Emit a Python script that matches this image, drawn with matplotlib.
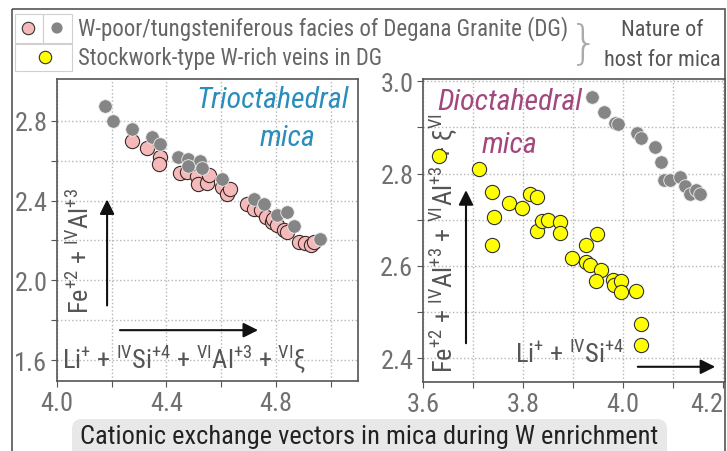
import matplotlib
matplotlib.use("Agg")
import matplotlib.pyplot as plt
from matplotlib.patches import Rectangle, FancyBboxPatch

FONT = 'Roboto Condensed'
plt.rcParams['font.family'] = [FONT, 'DejaVu Sans']
plt.rcParams['mathtext.fontset'] = 'custom'
plt.rcParams['mathtext.rm'] = FONT
plt.rcParams['mathtext.it'] = FONT + ':italic'

# trioctahedral mica (left panel)
tri_pink_x = [4.273, 4.328, 4.375, 4.371, 4.45, 4.474, 4.511, 4.517, 4.548, 4.554,
              4.603, 4.621, 4.634, 4.695, 4.719, 4.744, 4.762, 4.786, 4.79, 4.805,
              4.83, 4.841, 4.884, 4.908, 4.927, 4.938]
tri_pink_y = [2.697, 2.663, 2.618, 2.585, 2.54, 2.543, 2.523, 2.485, 2.49, 2.527,
              2.468, 2.435, 2.46, 2.385, 2.36, 2.352, 2.318, 2.293, 2.31, 2.277,
              2.252, 2.243, 2.193, 2.185, 2.177, 2.193]
tri_gray_x = [4.176, 4.206, 4.273, 4.347, 4.377, 4.444, 4.48, 4.524, 4.48, 4.53,
              4.603, 4.719, 4.756, 4.805, 4.841, 4.866, 4.961]
tri_gray_y = [2.877, 2.80, 2.757, 2.72, 2.685, 2.62, 2.61, 2.60, 2.574, 2.563,
              2.507, 2.41, 2.385, 2.327, 2.344, 2.273, 2.207]

# dioctahedral mica (right panel)
di_gray_x = [3.939, 3.962, 3.984, 3.991, 4.029, 4.036, 4.064, 4.077, 4.082, 4.094,
             4.113, 4.124, 4.134, 4.146, 4.155]
di_gray_y = [2.966, 2.934, 2.910, 2.908, 2.887, 2.877, 2.858, 2.826, 2.786, 2.786,
             2.792, 2.772, 2.756, 2.765, 2.756]
di_yel_x = [3.633, 3.713, 3.738, 3.742, 3.738, 3.773, 3.799, 3.814, 3.829, 3.829,
            3.839, 3.851, 3.874, 3.874, 3.899, 3.927, 3.949, 3.926, 3.935, 3.957,
            3.947, 3.980, 3.982, 3.997, 3.997, 4.026, 4.037, 4.037]
di_yel_y = [2.839, 2.810, 2.761, 2.706, 2.645, 2.736, 2.726, 2.755, 2.749, 2.676,
            2.697, 2.699, 2.695, 2.670, 2.617, 2.645, 2.668, 2.609, 2.602, 2.591,
            2.568, 2.570, 2.559, 2.566, 2.543, 2.545, 2.473, 2.428]

tri_xticks = [4.0, 4.2, 4.4, 4.6, 4.8, 5.0]
tri_xlabels = ['4.0', '', '4.4', '', '4.8', '']
tri_yticks = [1.6, 1.8, 2.0, 2.2, 2.4, 2.6, 2.8]
tri_ylabels = ['1.6', '', '2.0', '', '2.4', '', '2.8']
di_xticks = [3.6, 3.7, 3.8, 3.9, 4.0, 4.1, 4.2]
di_xlabels = ['3.6', '', '3.8', '', '4.0', '', '4.2']
di_yticks = [2.4, 2.5, 2.6, 2.7, 2.8, 2.9, 3.0]
di_ylabels = ['2.4', '', '2.6', '', '2.8', '', '3.0']

PINK = '#f5b9b9'
GRAY = '#858585'
YELLOW = '#ffff00'
SPINE = '#555555'
TICKTXT = '#707070'

W, H = 727, 452
fig = plt.figure(figsize=(W / 100, H / 100), dpi=100)

# overlay in pixel units for frame, legend and caption
ov = fig.add_axes([0, 0, 1, 1])
ov.set_xlim(0, W)
ov.set_ylim(H, 0)
ov.axis('off')

ov.add_patch(Rectangle((12, 10), 713, 460, fill=False, ec='#555555', lw=1.2))
for r in [(15, 15, 28, 29), (43, 15, 29, 29), (15, 45, 57, 27)]:
    ov.add_patch(Rectangle(r[:2], r[2], r[3], fill=False, ec='#d0d0d0', lw=0.8))
ov.scatter([28], [29], s=80, c=PINK, edgecolors='#333333', linewidths=0.8)
ov.scatter([57], [29], s=65, c=GRAY, edgecolors='none')
ov.scatter([45], [58], s=80, c=YELLOW, edgecolors='#333333', linewidths=0.8)
ov.text(78, 29, 'W-poor/tungsteniferous facies of Degana Granite (DG)',
        ha='left', va='center', fontsize=16.5, color='#666666')
ov.text(78, 58, 'Stockwork-type W-rich veins in DG',
        ha='left', va='center', fontsize=16.3, color='#666666')
ov.text(584, 44, '}', ha='center', va='center', fontsize=34, color='#aaaaaa',
        family='DejaVu Sans', fontweight='light')
ov.text(662, 30, 'Nature of', ha='center', va='center', fontsize=16, color='#555555')
ov.text(662, 60, 'host for mica', ha='center', va='center', fontsize=16, color='#555555')

ov.add_patch(FancyBboxPatch((72, 420), 595, 45,
                            boxstyle='round,pad=0,rounding_size=10',
                            fc='#e8e8e8', ec='none'))
ov.text(369, 437, 'Cationic exchange vectors in mica during W enrichment',
        ha='center', va='center', fontsize=19, color='#222222')

axL = fig.add_axes([57 / W, 1 - 382 / H, 301 / W, 302 / H])
axR = fig.add_axes([423 / W, 1 - 383 / H, 302 / W, 303 / H])


def style(ax, xt, xl, yt, yl):
    ax.set_xticks(xt)
    ax.set_xticklabels(xl)
    ax.set_yticks(yt)
    ax.set_yticklabels(yl)
    ax.grid(True, ls=':', color='#b5b5b5', lw=1.0)
    ax.set_axisbelow(True)
    for s in ax.spines.values():
        s.set_color(SPINE)
        s.set_linewidth(1.2)
    ax.tick_params(direction='out', length=4, color=SPINE, labelcolor=TICKTXT,
                   labelsize=19, pad=3)


style(axL, tri_xticks, tri_xlabels, tri_yticks, tri_ylabels)
axL.set_xlim(4.0, 5.1)
axL.set_ylim(1.495, 3.01)
axL.scatter(tri_pink_x, tri_pink_y, s=105, c=PINK, edgecolors='#3a2a2a',
            linewidths=0.8, zorder=3)
axL.scatter(tri_gray_x, tri_gray_y, s=95, c=GRAY, edgecolors='#eeeeee',
            linewidths=0.6, zorder=4)

arrow = dict(arrowstyle='-|>', color='#111111', lw=1.5, mutation_scale=22)
axL.annotate('', xy=(4.183, 2.42), xytext=(4.183, 1.86), arrowprops=arrow)
axL.annotate('', xy=(4.745, 1.75), xytext=(4.22, 1.75), arrowprops=arrow)
axL.text(4.084, 1.835, r'Fe$^{+2}$ + $^{\mathrm{IV}}$Al$^{+3}$', rotation=90,
         ha='center', va='bottom', fontsize=19, color='#555555')
axL.text(4.018, 1.61, r'Li$^{+}$ + $^{\mathrm{IV}}$Si$^{+4}$ + $^{\mathrm{VI}}$Al$^{+3}$ + $^{\mathrm{VI}}$ξ',
         ha='left', va='center', fontsize=19, color='#555555')
axL.text(5.066, 2.91, 'Trioctahedral', ha='right', va='center', fontsize=21.5,
         style='italic', color='#2a8dbb')
axL.text(4.842, 2.72, 'mica', ha='center', va='center', fontsize=21.5,
         style='italic', color='#2a8dbb')

style(axR, di_xticks, di_xlabels, di_yticks, di_ylabels)
axR.set_xlim(3.6, 4.204)
axR.set_ylim(2.348, 3.005)
axR.get_xticklabels()[-1].set_ha('right')
axR.scatter(di_gray_x, di_gray_y, s=95, c=GRAY, edgecolors='#eeeeee',
            linewidths=0.6, zorder=3)
axR.scatter(di_yel_x, di_yel_y, s=105, c=YELLOW, edgecolors='#333333',
            linewidths=0.8, zorder=4)
axR.annotate('', xy=(3.686, 2.77), xytext=(3.686, 2.426), arrowprops=arrow)
axR.annotate('', xy=(4.19, 2.381), xytext=(4.024, 2.381), arrowprops=arrow)
axR.text(3.64, 2.37,
         r'Fe$^{+2}$ + $^{\mathrm{IV}}$Al$^{+3}$ + $^{\mathrm{VI}}$Al$^{+3}$ + ξ$^{\mathrm{VI}}$',
         rotation=90, ha='center', va='bottom', fontsize=19, color='#555555')
axR.text(3.784, 2.409, r'Li$^{+}$ + $^{\mathrm{IV}}$Si$^{+4}$', ha='left', va='center',
         fontsize=19, color='#555555')
axR.text(3.628, 2.957, 'Dioctahedral', ha='left', va='center', fontsize=21.5,
         style='italic', color='#a2487f')
axR.text(3.774, 2.865, 'mica', ha='center', va='center', fontsize=21.5,
         style='italic', color='#a2487f')

fig.savefig('out.png', dpi=100)
